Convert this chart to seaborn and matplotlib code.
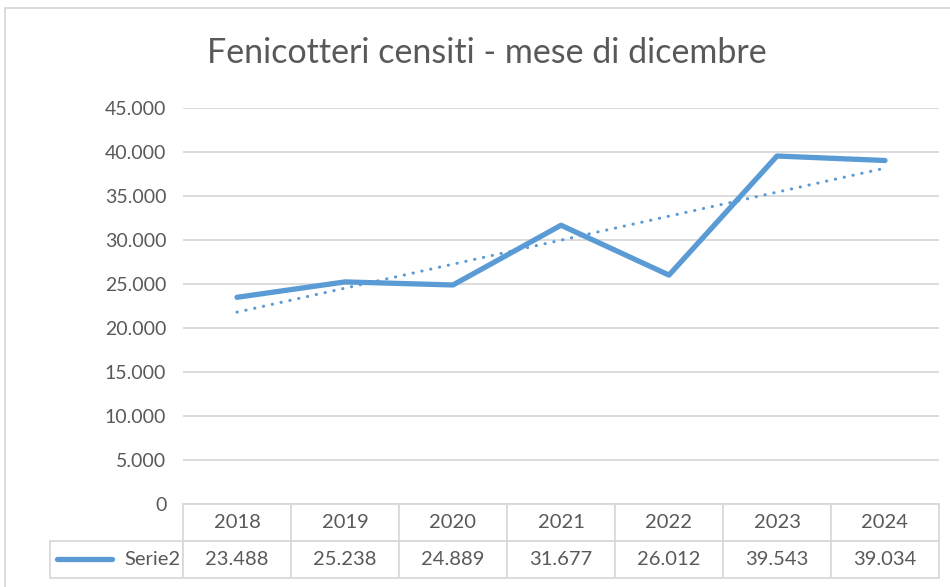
import matplotlib
matplotlib.use('Agg')
import matplotlib.pyplot as plt
from matplotlib.lines import Line2D
import numpy as np
import seaborn as sns

years = ['2018', '2019', '2020', '2021', '2022', '2023', '2024']
values = [23488, 25238, 24889, 31677, 26012, 39543, 39034]
series_name = 'Serie2'
title = 'Fenicotteri censiti - mese di dicembre'

blue = '#5B9BD5'
grey_txt = '#595959'
grid_col = '#D9D9D9'

sns.set_theme(style='white')
plt.rcParams['font.family'] = ['Lato', 'DejaVu Sans']

W, H = 950, 587
fig = plt.figure(figsize=(9.5, 5.87), dpi=100)
# plot area in pixels: x 183..939, y 108..504
ax = fig.add_axes([183 / W, 1 - 504 / H, (939 - 183) / W, (504 - 108) / H])

pos = np.arange(len(years))
sns.lineplot(x=pos, y=values, ax=ax, color=blue, lw=3.8,
             solid_capstyle='round', solid_joinstyle='round')
sns.regplot(x=pos, y=values, ax=ax, scatter=False, ci=None, truncate=True,
            line_kws=dict(color=blue, lw=2.2, ls=(0, (0.1, 2.85)),
                          dash_capstyle='round'))

ax.set_xlim(-0.5, len(years) - 0.5)
ax.set_ylim(0, 45000)
yt = np.arange(0, 45001, 5000)
ax.set_yticks(yt)
ax.set_yticklabels(['0' if v == 0 else f'{v:,}'.replace(',', '.') for v in yt],
                   color=grey_txt, fontsize=14)
ax.tick_params(axis='y', length=0, pad=12)
ax.set_xticks([])
ax.set_xlabel('')
ax.set_ylabel('')
ax.yaxis.grid(True, color=grid_col, lw=1.3)
ax.set_axisbelow(True)
for s in ax.spines.values():
    s.set_visible(False)

# data table under the plot area
ax_w, ax_h = 939 - 183, 504 - 108
label_w, col_w = 183 - 50, 108
rows = [[''] + years, [series_name] + [f'{v:,}'.replace(',', '.') for v in values]]
tbl = ax.table(cellText=rows, cellLoc='center',
               colWidths=[label_w] + [col_w] * len(years),
               bbox=[(50 - 183) / ax_w, -(578 - 504) / ax_h,
                     (label_w + col_w * len(years)) / ax_w, (578 - 504) / ax_h])
tbl.auto_set_font_size(False)
for (r, c), cell in tbl.get_celld().items():
    cell.set_edgecolor(grid_col)
    cell.set_linewidth(1.3)
    cell.get_text().set_color(grey_txt)
    cell.get_text().set_fontsize(14.5)
    if r == 0 and c == 0:
        cell.visible_edges = ''
    if r == 1 and c == 0:
        cell.get_text().set_ha('right')
        cell._loc = 'right'
        cell.PAD = 0.02

# legend key in the table
ax.add_line(Line2D([(57 - 183) / ax_w, (112 - 183) / ax_w],
                   [-(559 - 504) / ax_h] * 2, transform=ax.transAxes,
                   color=blue, lw=3.8, solid_capstyle='round', clip_on=False))

fig.text(487 / W, 1 - 53 / H, title, ha='center', va='center',
         fontsize=24.5, color=grey_txt)

# chart border
fig.add_artist(Line2D([5 / W, 5 / W], [0, 1 - 8 / H], color=grid_col, lw=1.3))
fig.add_artist(Line2D([5 / W, 1], [1 - 8 / H, 1 - 8 / H], color=grid_col, lw=1.3))

fig.savefig('out.png', dpi=100)
